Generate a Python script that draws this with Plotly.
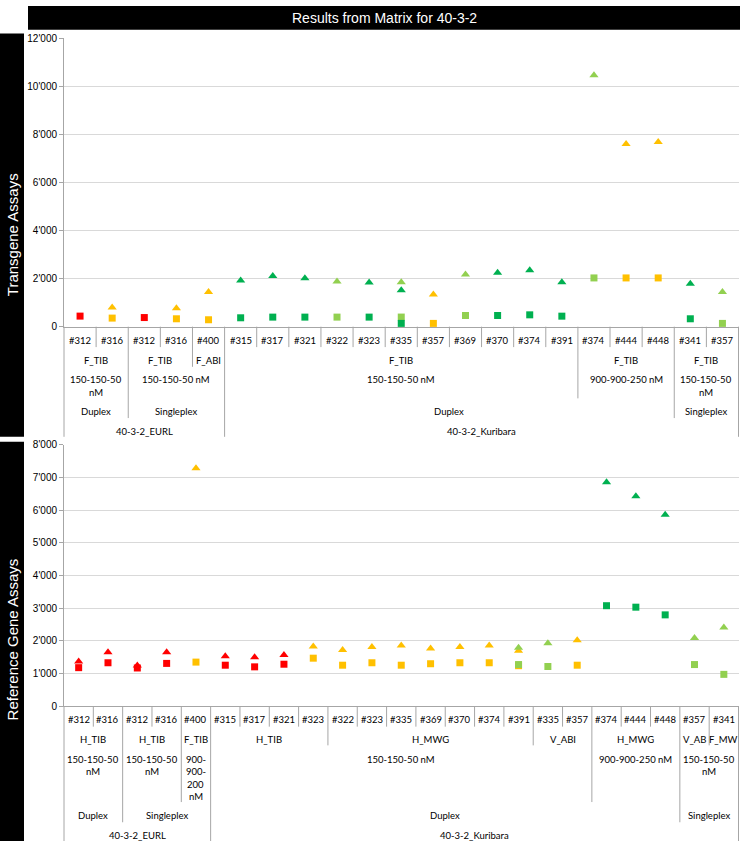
import re
import plotly.graph_objects as go

N = None
W, H = 740, 847

# ---------------- Top panel: Transgene Assays ----------------
top_sample = ["#312", "#316", "#312", "#316", "#400", "#315", "#317", "#321", "#322", "#323", "#335",
              "#357", "#369", "#370", "#374", "#391", "#374", "#444", "#448", "#341", "#357"]
top_assay = ["F_TIB"] * 4 + ["F_ABI"] + ["F_TIB"] * 16
top_conc = ["150-150-50 nM"] * 16 + ["900-900-250 nM"] * 3 + ["150-150-50 nM"] * 2
top_plex = ["Duplex"] * 2 + ["Singleplex"] * 3 + ["Duplex"] * 14 + ["Singleplex"] * 2
top_study = ["40-3-2_EURL"] * 5 + ["40-3-2_Kuribara"] * 16

top_red_sq = [440, N, 380, N, N, N, N, N, N, N, N, N, N, N, N, N, N, N, N, N, N]
top_org_sq = [N, 357, N, 329, 288, N, N, N, N, N, N, 137, N, N, N, N, N, 2027, 2027, N, N]
top_org_tri = [N, 795, N, 768, 1440, N, N, N, N, N, N, 1343, N, N, N, N, N, 7590, 7673, N, N]
top_lgr_sq = [N, N, N, N, N, N, N, N, 398, N, 400, N, 466, N, N, N, 2027, N, N, N, 137]
top_lgr_tri = [N, N, N, N, N, N, N, N, 1877, N, 1850, N, 2165, N, N, N, 10452, N, N, N, 1440]
top_dgr_sq = [N, N, N, N, N, 370, 398, 398, N, 398, 137, N, N, 466, 493, 438, N, N, N, 329, N]
top_dgr_tri = [N, N, N, N, N, 1918, 2110, 2014, N, 1836, 1520, N, N, 2247, 2343, 1850, N, N, N, 1781, N]
top_ticks = [0, 2000, 4000, 6000, 8000, 10000, 12000]

# ---------------- Bottom panel: Reference Gene Assays ----------------
bot_sample = ["#312", "#316", "#312", "#316", "#400", "#315", "#317", "#321", "#323", "#322", "#323", "#335",
              "#369", "#370", "#374", "#391", "#335", "#357", "#374", "#444", "#448", "#357", "#341"]
bot_assay = ["H_TIB"] * 4 + ["F_TIB"] + ["H_TIB"] * 4 + ["H_MWG"] * 7 + ["V_ABI"] * 2 + ["H_MWG"] * 3 + ["V_AB", "F_MW"]
bot_conc = ["150-150-50 nM"] * 4 + ["900-900-200 nM"] + ["150-150-50 nM"] * 13 + ["900-900-250 nM"] * 3 + ["150-150-50 nM"] * 2
bot_plex = ["Duplex"] * 2 + ["Singleplex"] * 3 + ["Duplex"] * 16 + ["Singleplex"] * 2
bot_study = ["40-3-2_EURL"] * 5 + ["40-3-2_Kuribara"] * 18

bot_red_sq = [1180, 1330, 1170, 1310, N, 1255, 1205, 1285, N, N, N, N, N, N, N, N, N, N, N, N, N, N, N]
bot_red_tri = [1370, 1655, 1250, 1655, N, 1530, 1500, 1570, N, N, N, N, N, N, N, N, N, N, N, N, N, N, N]
bot_org_sq = [N, N, N, N, 1350, N, N, N, 1470, 1255, 1330, 1255, 1300, 1330, 1330, 1240, N, 1255, N, N, N, N, N]
bot_org_tri = [N, N, N, N, 7280, N, N, N, 1830, 1720, 1810, 1860, 1770, 1810, 1860, 1700, N, 2020, N, N, N, N, N]
bot_lgr_sq = [N] * 15 + [1275, 1215, N, N, N, N, 1275, 975]
bot_lgr_tri = [N] * 15 + [1790, 1930, N, N, N, N, 2090, 2410]
bot_dgr_sq = [N] * 18 + [3075, 3030, 2795, N, N]
bot_dgr_tri = [N] * 18 + [6855, 6420, 5860, N, N]
bot_ticks = [0, 1000, 2000, 3000, 4000, 5000, 6000, 7000, 8000]

RED, ORG, LGR, DGR = "#ff0000", "#ffc000", "#92d050", "#00b050"
LINE = "#a6a6a6"
GRID = "#d9d9d9"
FS = 9.5
TFONT = "Lato"

XDOM = [64 / W, 738.5 / W]
TOP_AX, TOP_TOP = 325.3, 32.5
BOT_AX, BOT_TOP = 710.3, 445.0

fig = go.Figure()


def add_points(xa, ya, series):
    for vals, color, sym, size in series:
        xs = [i for i, v in enumerate(vals) if v is not None]
        ys = [v for v in vals if v is not None]
        fig.add_trace(go.Scatter(
            x=xs, y=ys, xaxis=xa, yaxis=ya, mode="markers",
            marker=dict(symbol=sym, color=color, size=size, line=dict(width=0)),
            cliponaxis=False, showlegend=False, hoverinfo="skip"))


TRI, SQ = "triangle-up", "square"
add_points("x", "y", [
    (top_org_tri, ORG, TRI, 8), (top_lgr_tri, LGR, TRI, 8), (top_dgr_tri, DGR, TRI, 8),
    (top_red_sq, RED, SQ, 7), (top_org_sq, ORG, SQ, 7), (top_lgr_sq, LGR, SQ, 7), (top_dgr_sq, DGR, SQ, 7),
])
add_points("x2", "y2", [
    (bot_red_tri, RED, TRI, 8), (bot_org_tri, ORG, TRI, 8), (bot_lgr_tri, LGR, TRI, 8), (bot_dgr_tri, DGR, TRI, 8),
    (bot_red_sq, RED, SQ, 7), (bot_org_sq, ORG, SQ, 7), (bot_lgr_sq, LGR, SQ, 7), (bot_dgr_sq, DGR, SQ, 7),
])


def char_w(c):
    if c.isdigit() or c == "#":
        return 0.58
    if c == "-":
        return 0.34
    if c == " ":
        return 0.2
    if c == "_":
        return 0.5
    if c.isupper():
        return 0.65
    return 0.52


def est(s, fs):
    return sum(char_w(c) for c in s) * fs


def wrap(text, avail, fs):
    toks = [(m.group(), m.start() > 0 and text[m.start() - 1] == " ")
            for m in re.finditer(r"\S+?-|\S+", text)]
    lines, cur = [], ""
    for tok, sp in toks:
        cand = (cur + (" " if sp else "") + tok) if cur else tok
        if not cur or est(cand, fs) <= avail:
            cur = cand
        else:
            lines.append(cur)
            cur = tok
    if cur:
        lines.append(cur)
    return lines


def draw_table(levels, xa, yrows, line_h, depth_px, axis_px):
    n = len(levels[0])
    x0, x1 = XDOM[0] * W, XDOM[1] * W
    cw = (x1 - x0) / n
    for k, lev in enumerate(levels):
        i = 0
        while i < n:
            j = i + 1
            if k > 0:
                key = tuple(l[i] for l in levels[k:])
                while j < n and tuple(l[j] for l in levels[k:]) == key:
                    j += 1
            for m, t in enumerate(wrap(lev[i], (j - i) * cw - 6, FS)):
                fig.add_annotation(
                    x=(i + j - 1) / 2, y=1 - (yrows[k] + m * line_h) / H,
                    xref=xa, yref="paper", text=t, showarrow=False,
                    font=dict(family=TFONT, size=FS, color="#000000"),
                    xanchor="center", yanchor="middle")
            i = j
    for b in range(n + 1):
        if b == 0 or b == n:
            d = len(levels) - 1
        else:
            diffs = [k for k in range(len(levels)) if levels[k][b - 1] != levels[k][b]]
            d = max(diffs) if diffs else 0
        xp = (x0 + b * cw) / W
        fig.add_shape(type="line", xref="paper", yref="paper", x0=xp, x1=xp,
                      y0=1 - axis_px / H, y1=1 - depth_px[d] / H,
                      line=dict(color=LINE, width=1))


draw_table([top_sample, top_assay, top_conc, top_plex, top_study], "x",
           [339.3, 360, 379, 411.7, 431.7], 12.7, [346, 366, 398, 418, 437], TOP_AX)
draw_table([bot_sample, bot_assay, bot_conc, bot_plex, bot_study], "x2",
           [723.5, 744.3, 764.2, 821.3, 841.3], 12.6, [731, 750, 807.5, 828, 847], BOT_AX)


def fmt(v):
    return f"{v:,}".replace(",", "'")


common_y = dict(showgrid=True, gridcolor=GRID, gridwidth=1, zeroline=False,
                showline=True, linecolor=LINE, linewidth=1, ticks="outside",
                ticklen=4, tickcolor=LINE,
                tickfont=dict(family="Liberation Sans", size=10, color="#000000"),
                fixedrange=True)
common_x = dict(showgrid=False, zeroline=False, showticklabels=False, ticks="",
                showline=True, linecolor=LINE, linewidth=1, fixedrange=True)

# black header and side bars
fig.add_shape(type="rect", xref="paper", yref="paper", x0=28 / W, x1=1, y0=1 - 24 / H, y1=1,
              fillcolor="#000000", line=dict(width=0), layer="below")
fig.add_shape(type="rect", xref="paper", yref="paper", x0=0, x1=24 / W, y0=1 - 437 / H, y1=1 - 28 / H,
              fillcolor="#000000", line=dict(width=0), layer="below")
fig.add_shape(type="rect", xref="paper", yref="paper", x0=0, x1=24 / W, y0=0, y1=1 - 442 / H,
              fillcolor="#000000", line=dict(width=0), layer="below")

fig.add_annotation(x=(28 + 740) / 2 / W, y=1 - 12 / H, xref="paper", yref="paper",
                   text="Results from Matrix for 40-3-2", showarrow=False,
                   font=dict(family="Liberation Sans", size=14, color="#ffffff"),
                   xanchor="center", yanchor="middle")
fig.add_annotation(x=12.5 / W, y=1 - 232 / H, xref="paper", yref="paper",
                   text="Transgene Assays", showarrow=False, textangle=-90,
                   font=dict(family="Liberation Sans", size=15, color="#ffffff"),
                   xanchor="center", yanchor="middle")
fig.add_annotation(x=12.5 / W, y=1 - 643 / H, xref="paper", yref="paper",
                   text="Reference Gene Assays", showarrow=False, textangle=-90,
                   font=dict(family="Liberation Sans", size=15, color="#ffffff"),
                   xanchor="center", yanchor="middle")

fig.update_layout(
    width=W, height=H, margin=dict(l=0, r=0, t=0, b=0),
    paper_bgcolor="#ffffff", plot_bgcolor="#ffffff", showlegend=False,
    xaxis=dict(domain=XDOM, range=[-0.5, len(top_sample) - 0.5], anchor="y", **common_x),
    yaxis=dict(domain=[1 - TOP_AX / H, 1 - TOP_TOP / H], range=[0, top_ticks[-1]], anchor="x",
               tickvals=top_ticks, ticktext=[fmt(v) for v in top_ticks], **common_y),
    xaxis2=dict(domain=XDOM, range=[-0.5, len(bot_sample) - 0.5], anchor="y2", **common_x),
    yaxis2=dict(domain=[1 - BOT_AX / H, 1 - BOT_TOP / H], range=[0, bot_ticks[-1]], anchor="x2",
                tickvals=bot_ticks, ticktext=[fmt(v) for v in bot_ticks], **common_y),
)

fig.write_html("out.html", config={"displayModeBar": False},
               post_script="document.body.style.margin='0px';document.body.style.overflow='hidden';")
